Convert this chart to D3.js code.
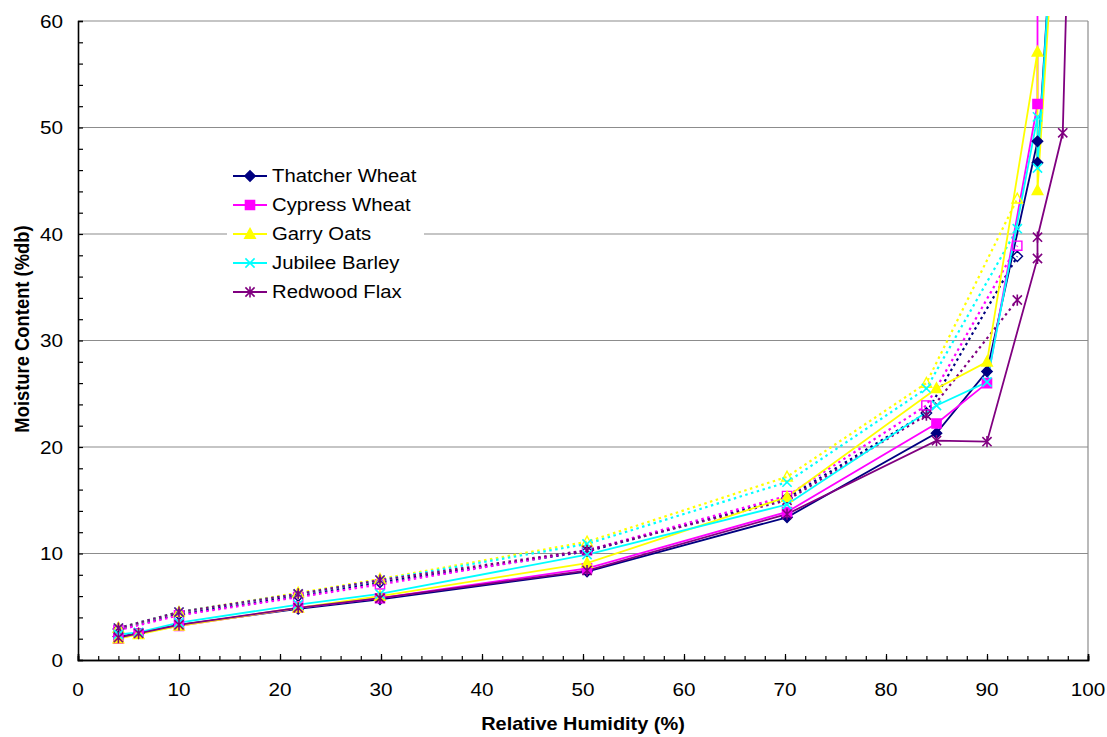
<!DOCTYPE html>
<html><head><meta charset="utf-8">
<script src="https://cdn.jsdelivr.net/npm/d3@7"></script>
<style>
html,body{margin:0;padding:0;background:#fff;}
text{font-family:"Liberation Sans",Arial,sans-serif;fill:#000;}
</style></head>
<body><svg id="chart" width="1107" height="737"></svg>
<script>
// ---------------- data ----------------
const seriesNames = ["Thatcher Wheat","Cypress Wheat","Garry Oats","Jubilee Barley","Redwood Flax"];
const xTickLabels = [0,10,20,30,40,50,60,70,80,90,100];
const yTickLabels = [0,10,20,30,40,50,60];

// adsorption (solid lines, filled markers)
const adsRH        = [4, 6, 10, 21.8, 29.9, 50.4, 70.2, 85, 90, 95, 95, 98];
const adsThatcher  = [2.2, 2.5, 3.3, 4.8, 5.7, 8.3, 13.4, 21.3, 27.1, 48.7, 46.7, 92];
const adsRHCypress = [4, 6, 10, 21.8, 29.9, 50.4, 70.2, 85, 90, 95, 95];
const adsCypress   = [2.0, 2.5, 3.2, 4.9, 5.8, 8.6, 13.9, 22.2, 26.0, 52.2, 75];
const adsGarry     = [2.0, 2.4, 3.2, 4.9, 6.0, 9.1, 15.3, 25.5, 28.0, 57.1, 44.1, 89];
const adsJubilee   = [2.4, 2.6, 3.5, 5.2, 6.2, 9.9, 14.6, 23.9, 26.1, 51.0, 46.2, 92];
const adsRHRedwood = [4, 6, 10, 21.8, 29.9, 50.4, 70.2, 85, 90, 95, 95, 97.5, 98];
const adsRedwood   = [2.1, 2.5, 3.3, 4.9, 5.8, 8.4, 13.7, 20.6, 20.5, 37.7, 39.7, 49.5, 67];

// desorption (dotted lines, open markers)
const desRH        = [4, 10, 21.8, 29.9, 50.4, 70.2, 84, 93];
const desThatcher  = [2.9, 4.3, 6.0, 7.3, 10.2, 15.2, 23.2, 37.9];
const desCypress   = [2.8, 4.2, 5.9, 7.1, 10.3, 15.4, 23.9, 38.9];
const desGarry     = [3.0, 4.5, 6.3, 7.6, 11.1, 17.2, 26.0, 43.3];
const desJubilee   = [3.0, 4.5, 6.2, 7.5, 10.9, 16.7, 25.5, 40.5];
const desRedwood   = [3.0, 4.5, 6.2, 7.5, 10.3, 15.0, 23.0, 33.8];

// ---------------- styles ----------------
const colors  = ["#000080","#FF00FF","#FFFF00","#00FFFF","#800080"];
const shapes  = ["diamond","square","triangle","x","asterisk"];

const zip = (a,b) => a.map((v,i)=>[v,b[i]]);
const adsorption = [
  zip(adsRH, adsThatcher), zip(adsRHCypress, adsCypress), zip(adsRH, adsGarry),
  zip(adsRH, adsJubilee), zip(adsRHRedwood, adsRedwood)];
const desorption = [
  zip(desRH, desThatcher), zip(desRH, desCypress), zip(desRH, desGarry),
  zip(desRH, desJubilee), zip(desRH, desRedwood)];

const svg = d3.select("#chart");
const L = 78, R = 1088, T = 21, B = 660;
const x = d3.scaleLinear().domain([0,100]).range([L,R]);
const y = d3.scaleLinear().domain([0,60]).range([B,T]);
const SX = 1.12; // horizontal text stretch

// grid lines
svg.append("g").selectAll("line").data(yTickLabels.filter(v=>v>0)).join("line")
  .attr("x1",L).attr("x2",R).attr("y1",d=>y(d)).attr("y2",d=>y(d))
  .attr("stroke","#8c8c8c").attr("stroke-width",1.2);
svg.append("line").attr("x1",R).attr("x2",R).attr("y1",T).attr("y2",B)
  .attr("stroke","#8c8c8c").attr("stroke-width",1.2);

// axes (ticks inside)
const xMinor = d3.axisBottom(x).tickValues(d3.range(0,101,2)).tickSize(-4).tickFormat("");
const xMajor = d3.axisBottom(x).tickValues(xTickLabels).tickSize(-6).tickFormat("");
const yMinor = d3.axisLeft(y).tickValues(d3.range(0,61,2)).tickSize(-5).tickFormat("");
[xMinor,xMajor].forEach(a=>{
  const g = svg.append("g").attr("transform",`translate(0,${B})`).call(a);
  g.select(".domain").attr("stroke","#000").attr("stroke-width",1.6);
  g.selectAll(".tick line").attr("stroke","#000").attr("stroke-width",1.2);
});
{
  const g = svg.append("g").attr("transform",`translate(${L},0)`).call(yMinor);
  g.select(".domain").attr("stroke","#000").attr("stroke-width",1.6);
  g.selectAll(".tick line").attr("stroke","#000").attr("stroke-width",1.2);
}

// tick labels
svg.append("g").selectAll("text").data(xTickLabels).join("text")
  .attr("transform",d=>`translate(${x(d)},696) scale(${SX},1)`)
  .attr("text-anchor","middle").attr("font-size",18.5).text(d=>d);
svg.append("g").selectAll("text").data(yTickLabels).join("text")
  .attr("transform",d=>`translate(63,${y(d)+6.6}) scale(${SX},1)`)
  .attr("text-anchor","end").attr("font-size",18.5).text(d=>d);

// axis titles
svg.append("text").attr("transform",`translate(583,730) scale(${SX},1)`)
  .attr("text-anchor","middle").attr("font-size",17.8).attr("font-weight","bold")
  .text("Relative Humidity (%)");
svg.append("text").attr("transform",`translate(29,329) scale(${SX},1) rotate(-90)`)
  .attr("text-anchor","middle").attr("font-size",18.4).attr("font-weight","bold")
  .text("Moisture Content (%db)");

// marker paths
function markerPath(shape){
  switch(shape){
    case "diamond": return "M0,-5.2L5.2,0L0,5.2L-5.2,0Z";
    case "square": return "M-4.6,-4.6H4.6V4.6H-4.6Z";
    case "triangle": return "M0,-5.6L5.3,4.2L-5.3,4.2Z";
    case "x": return "M-4.6,-4.6L4.6,4.6M4.6,-4.6L-4.6,4.6";
    case "asterisk": return "M-4.6,-4.6L4.6,4.6M4.6,-4.6L-4.6,4.6M0,-5.6V5.6";
  }
}
function drawMarker(g, shape, color, cx, cy, open){
  const lineOnly = shape==="x"||shape==="asterisk";
  g.append("path").attr("d",markerPath(shape))
    .attr("transform",`translate(${cx},${cy})`)
    .attr("fill", lineOnly||open ? "none" : color)
    .attr("stroke",color).attr("stroke-width", lineOnly?1.6:1.4);
}

// clip
svg.append("defs").append("clipPath").attr("id","clip")
  .append("rect").attr("x",L).attr("y",16).attr("width",R-L+10).attr("height",B-16);

const plot = svg.append("g").attr("clip-path","url(#clip)");
const line = d3.line().x(d=>x(d[0])).y(d=>y(d[1]));

// dotted desorption lines
desorption.forEach((pts,i)=>{
  plot.append("path").attr("d",line(pts)).attr("fill","none")
    .attr("stroke",colors[i]).attr("stroke-width",2.2)
    .attr("stroke-dasharray","2.5,3.5");
});
// solid adsorption lines
adsorption.forEach((pts,i)=>{
  plot.append("path").attr("d",line(pts)).attr("fill","none")
    .attr("stroke",colors[i]).attr("stroke-width",1.8);
});
// markers
desorption.forEach((pts,i)=>{
  const g = plot.append("g");
  pts.forEach(p=>drawMarker(g, shapes[i], colors[i], x(p[0]), y(p[1]), true));
});
adsorption.forEach((pts,i)=>{
  const g = plot.append("g");
  pts.filter(p=>p[1]<=60).forEach(p=>drawMarker(g, shapes[i], colors[i], x(p[0]), y(p[1]), false));
});

// legend
const lg = svg.append("g");
lg.append("rect").attr("x",227).attr("y",160).attr("width",197).attr("height",148).attr("fill","#fff");
seriesNames.forEach((name,i)=>{
  const yy = 176 + i*29;
  lg.append("line").attr("x1",233).attr("x2",267).attr("y1",yy).attr("y2",yy)
    .attr("stroke",colors[i]).attr("stroke-width",1.8);
  drawMarker(lg, shapes[i], colors[i], 250, yy, false);
  lg.append("text").attr("transform",`translate(272,${yy+6.3}) scale(1.16,1)`)
    .attr("font-size",17.5).text(name);
});
</script></body></html>
